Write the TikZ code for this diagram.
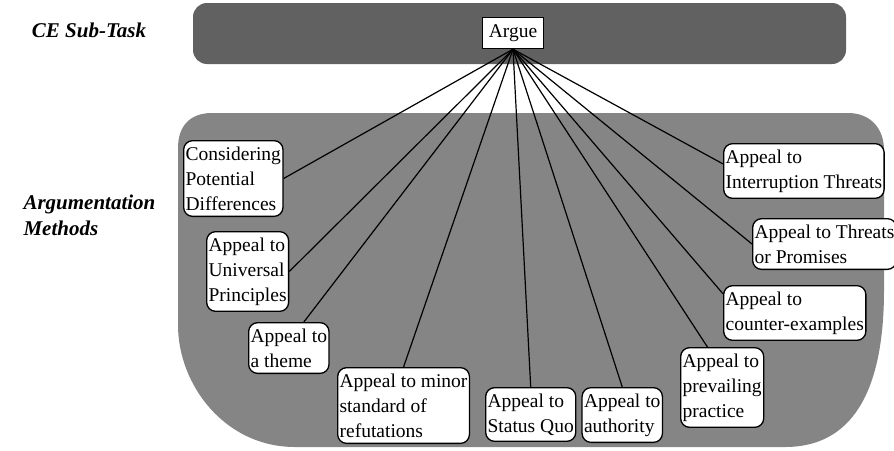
\documentclass[tikz,border=0pt]{standalone}
\usepackage{fontspec}
\setmainfont{Liberation Serif}
\usetikzlibrary{positioning}

\begin{document}
\begin{tikzpicture}[x=1pt,y=-1pt,
  method/.style={draw=black,line width=1.3pt,fill=white,rounded corners=9pt,align=left,anchor=north west,
    inner xsep=2pt,inner ysep=6pt,font=\fontsize{19.5}{25}\selectfont},
  task/.style={draw=black,line width=1.3pt,fill=white,inner xsep=6pt,inner ysep=7pt,font=\fontsize{19.5}{24}\selectfont},
  title/.style={font=\fontsize{21}{26}\selectfont\bfseries\itshape,align=left},
  link/.style={line width=1.2pt}]
\useasboundingbox (0,0) rectangle (894,450);
% shaded bands
\fill[black!62,rounded corners=14pt] (193,3) rectangle (846,64);
\fill[black!48] (212,113) -- (848,113) .. controls (870,113) and (884,128) .. (884,150) -- (884,290)
  .. controls (884,395) and (850,447) .. (785,447) -- (295,447)
  .. controls (225,447) and (178,385) .. (178,325) -- (178,148)
  .. controls (178,126) and (190,113) .. (212,113);
% row titles
\node[title] (subtask) at (89,30) {CE Sub-Task};
\node[title,anchor=west] (methods) at (20,215) {Argumentation\\Methods};
% task and methods
\node[task] (argue) at (513,33) {Argue};
\node[method] (consid) at (183,140) {Considering\\Potential\\Differences};
\node[method] (univ) at (206,231) {Appeal to\\Universal\\Principles};
\node[method] (theme) at (248,322) {Appeal to\\a theme};
\node[method] (minor) at (337,367) {Appeal to minor\\standard of\\refutations};
\node[method] (statq) at (485,387) {Appeal to\\Status Quo};
\node[method,right=5pt of statq.north east,anchor=north west] (auth) {Appeal to\\authority};
\node[method] (prevail) at (680,347) {Appeal to\\prevailing\\practice};
\node[method] (counter) at (723,285) {Appeal to\\counter-examples};
\node[method] (threats) at (752,218) {Appeal to Threats\\or Promises};
\node[method] (interr) at (723,143) {Appeal to\\Interruption Threats};
% links
\foreach \n in {consid.east,univ.east,theme.60,minor.north,statq.north,auth.north,prevail.110,counter.165,threats.west,interr.175}
  \draw[link] (argue.south) -- (\n);
\end{tikzpicture}
\end{document}
